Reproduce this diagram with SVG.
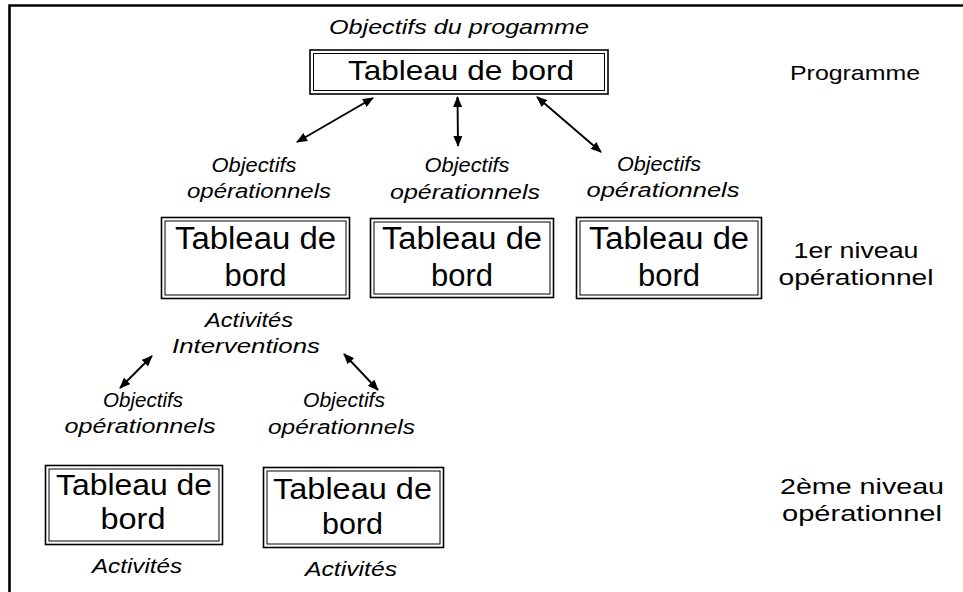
<svg xmlns="http://www.w3.org/2000/svg" width="963" height="592" viewBox="0 0 963 592">
<style>
.t{font-family:"Liberation Sans",Arial,sans-serif;fill:#000;text-anchor:middle}
.i{font-style:italic}
.ob{fill:#fff;stroke:#000;stroke-width:1.6}
.ib{fill:none;stroke:#000;stroke-width:1}
.c{stroke:#000;stroke-width:1.9;fill:none;marker-start:url(#ah);marker-end:url(#ah)}
</style>
<defs>
<marker id="ah" viewBox="0 0 11 9" refX="10" refY="4.5" markerWidth="11" markerHeight="9" markerUnits="userSpaceOnUse" orient="auto-start-reverse">
<path d="M0,0 L11,4.5 L0,9 Z" fill="#000"/>
</marker>
</defs>
<rect width="963" height="592" fill="#fff"/>
<path d="M9.5,592 V5.5 H963" fill="none" stroke="#000" stroke-width="2.6"/>

<text class="t i" x="459" y="34" font-size="21" textLength="260" lengthAdjust="spacingAndGlyphs">Objectifs du progamme</text>
<text class="t" x="855" y="80" font-size="21" textLength="130" lengthAdjust="spacingAndGlyphs">Programme</text>
<text class="t" x="856" y="258" font-size="22" textLength="125" lengthAdjust="spacingAndGlyphs">1er niveau</text>
<text class="t" x="856" y="285" font-size="22" textLength="155" lengthAdjust="spacingAndGlyphs">opérationnel</text>
<text class="t" x="862" y="494" font-size="22" textLength="164" lengthAdjust="spacingAndGlyphs">2ème niveau</text>
<text class="t" x="862" y="521" font-size="22" textLength="160" lengthAdjust="spacingAndGlyphs">opérationnel</text>

<g id="tb-programme">
<rect class="ob" x="310" y="50" width="298" height="44"/>
<rect class="ib" x="313.5" y="53.5" width="291" height="37"/>
<text class="t" x="461" y="80" font-size="28" textLength="226" lengthAdjust="spacingAndGlyphs">Tableau de bord</text>
</g>

<g id="lbl-op1">
<text class="t i" x="254" y="172" font-size="20" textLength="85" lengthAdjust="spacingAndGlyphs">Objectifs</text>
<text class="t i" x="259" y="198" font-size="20" textLength="144" lengthAdjust="spacingAndGlyphs">opérationnels</text>
</g>
<g id="lbl-op2">
<text class="t i" x="467" y="172" font-size="20" textLength="85" lengthAdjust="spacingAndGlyphs">Objectifs</text>
<text class="t i" x="465" y="199" font-size="20" textLength="150" lengthAdjust="spacingAndGlyphs">opérationnels</text>
</g>
<g id="lbl-op3">
<text class="t i" x="659" y="171" font-size="20" textLength="84" lengthAdjust="spacingAndGlyphs">Objectifs</text>
<text class="t i" x="663" y="197" font-size="20" textLength="153" lengthAdjust="spacingAndGlyphs">opérationnels</text>
</g>

<g id="tb-n1-a">
<rect class="ob" x="161.5" y="217.5" width="188" height="81"/>
<rect class="ib" x="165" y="221" width="181" height="74"/>
<text class="t" x="255.5" y="249" font-size="31" textLength="161" lengthAdjust="spacingAndGlyphs">Tableau de</text>
<text class="t" x="255.5" y="286" font-size="31" textLength="62" lengthAdjust="spacingAndGlyphs">bord</text>
</g>
<g id="tb-n1-b">
<rect class="ob" x="370.5" y="218.5" width="183" height="79"/>
<rect class="ib" x="374" y="222" width="176" height="72"/>
<text class="t" x="462" y="249" font-size="31" textLength="160" lengthAdjust="spacingAndGlyphs">Tableau de</text>
<text class="t" x="462" y="286" font-size="31" textLength="62" lengthAdjust="spacingAndGlyphs">bord</text>
</g>
<g id="tb-n1-c">
<rect class="ob" x="576.5" y="217.5" width="185" height="81"/>
<rect class="ib" x="580" y="221" width="178" height="74"/>
<text class="t" x="669" y="249" font-size="31" textLength="160" lengthAdjust="spacingAndGlyphs">Tableau de</text>
<text class="t" x="669" y="286" font-size="31" textLength="62" lengthAdjust="spacingAndGlyphs">bord</text>
</g>

<g id="lbl-act1">
<text class="t i" x="249" y="327" font-size="21" textLength="88" lengthAdjust="spacingAndGlyphs">Activités</text>
<text class="t i" x="246" y="353" font-size="21" textLength="148" lengthAdjust="spacingAndGlyphs">Interventions</text>
</g>

<g id="lbl-op4">
<text class="t i" x="143" y="407" font-size="20" textLength="80" lengthAdjust="spacingAndGlyphs">Objectifs</text>
<text class="t i" x="140" y="433" font-size="20" textLength="151" lengthAdjust="spacingAndGlyphs">opérationnels</text>
</g>
<g id="lbl-op5">
<text class="t i" x="344" y="407" font-size="20" textLength="82" lengthAdjust="spacingAndGlyphs">Objectifs</text>
<text class="t i" x="341.5" y="434" font-size="20" textLength="147" lengthAdjust="spacingAndGlyphs">opérationnels</text>
</g>

<g id="tb-n2-a">
<rect class="ob" x="45.5" y="465.5" width="177" height="79"/>
<rect class="ib" x="49" y="469" width="170" height="72"/>
<text class="t" x="134" y="495" font-size="30" textLength="156" lengthAdjust="spacingAndGlyphs">Tableau de</text>
<text class="t" x="133" y="529" font-size="30" textLength="65" lengthAdjust="spacingAndGlyphs">bord</text>
</g>
<g id="tb-n2-b">
<rect class="ob" x="263.5" y="467.5" width="180" height="80"/>
<rect class="ib" x="267" y="471" width="173" height="73"/>
<text class="t" x="352.5" y="499" font-size="30" textLength="159" lengthAdjust="spacingAndGlyphs">Tableau de</text>
<text class="t" x="352.5" y="534" font-size="30" textLength="61" lengthAdjust="spacingAndGlyphs">bord</text>
</g>

<g id="lbl-act2">
<text class="t i" x="137" y="573" font-size="21" textLength="90" lengthAdjust="spacingAndGlyphs">Activités</text>
</g>
<g id="lbl-act3">
<text class="t i" x="351" y="576" font-size="21" textLength="92" lengthAdjust="spacingAndGlyphs">Activités</text>
</g>

<g id="connectors">
<line class="c" x1="373" y1="98" x2="297" y2="142"/>
<line class="c" x1="457.5" y1="97" x2="458" y2="146"/>
<line class="c" x1="537" y1="97" x2="601" y2="152"/>
<line class="c" x1="152" y1="356" x2="120" y2="388"/>
<line class="c" x1="344" y1="354" x2="378" y2="390"/>
</g>
</svg>
